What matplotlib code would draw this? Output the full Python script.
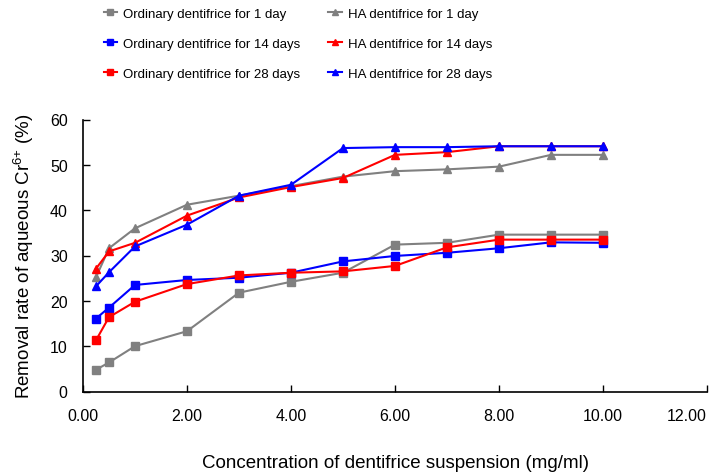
import matplotlib
matplotlib.use('Agg')
import matplotlib.pyplot as plt

plt.rcParams['font.family'] = ['Liberation Sans', 'DejaVu Sans']
plt.rcParams['mathtext.fontset'] = 'custom'
plt.rcParams['mathtext.rm'] = 'Liberation Sans'
plt.rcParams['mathtext.it'] = 'Liberation Sans:italic'

# concentration of dentifrice suspension (mg/ml)
conc = [0.25, 0.5, 1, 2, 3, 4, 5, 6, 7, 8, 9, 10]

# removal rate of aqueous Cr6+ (%)
ordinary_1d = [4.8, 6.4, 10.0, 13.3, 21.8, 24.2, 26.2, 32.4, 32.8, 34.6, 34.6, 34.6]
ordinary_14d = [16.1, 18.5, 23.5, 24.6, 25.1, 26.2, 28.7, 29.9, 30.6, 31.6, 32.9, 32.8]
ordinary_28d = [11.3, 16.4, 19.8, 23.7, 25.6, 26.2, 26.5, 27.7, 31.8, 33.5, 33.5, 33.5]
ha_1d = [25.2, 31.6, 36.0, 41.2, 43.2, 45.3, 47.4, 48.6, 49.0, 49.6, 52.2, 52.2]
ha_14d = [27.1, 30.9, 32.8, 38.8, 42.8, 45.1, 47.1, 52.2, 52.8, 54.1, 54.1, 54.1]
ha_28d = [23.2, 26.3, 32.0, 36.8, 43.2, 45.6, 53.7, 53.9, 53.9, 54.1, 54.1, 54.1]

series = [
    ('Ordinary dentifrice for 1 day', ordinary_1d, '#808080', 's'),
    ('Ordinary dentifrice for 14 days', ordinary_14d, '#0000ff', 's'),
    ('Ordinary dentifrice for 28 days', ordinary_28d, '#ff0000', 's'),
    ('HA dentifrice for 1 day', ha_1d, '#808080', '^'),
    ('HA dentifrice for 14 days', ha_14d, '#ff0000', '^'),
    ('HA dentifrice for 28 days', ha_28d, '#0000ff', '^'),
]

fig = plt.figure(figsize=(7.17, 4.77), dpi=100)
ax = fig.add_axes([83 / 717, 1 - 392.5 / 477, 624 / 717, 272 / 477])

for label, vals, color, marker in series:
    ax.plot(conc, vals, color=color, marker=marker, markersize=5.5 if marker == 's' else 6,
            linewidth=1.5, label=label)

ax.set_xlim(0, 12)
ax.set_ylim(0, 60)
ax.set_xticks(range(0, 13, 2))
ax.set_xticklabels([f'{v:.2f}' for v in range(0, 13, 2)])
ax.set_yticks(range(0, 61, 10))
ax.tick_params(direction='in', length=5, width=1, labelsize=11.5)
ax.tick_params(axis='x', pad=12)
ax.tick_params(axis='y', pad=11)
ax.get_xticklabels()[-1].set_horizontalalignment('right')
ax.spines['top'].set_visible(False)
ax.spines['right'].set_visible(False)
for s in ['left', 'bottom']:
    ax.spines[s].set_linewidth(1.2)

ax.set_xlabel('Concentration of dentifrice suspension (mg/ml)', fontsize=13.5, labelpad=22)
ax.set_ylabel(r'Removal rate of aqueous Cr$^{6{+}}$ (%)', fontsize=13.5, labelpad=10)

fig.legend(loc='upper left', bbox_to_anchor=(97 / 717, 1 - 2 / 477), ncol=2, frameon=False,
           fontsize=9.5, handlelength=1.0, handletextpad=0.5, columnspacing=2.1,
           labelspacing=1.35, borderpad=0, markerscale=0.8)

fig.savefig('out.png', dpi=100)
